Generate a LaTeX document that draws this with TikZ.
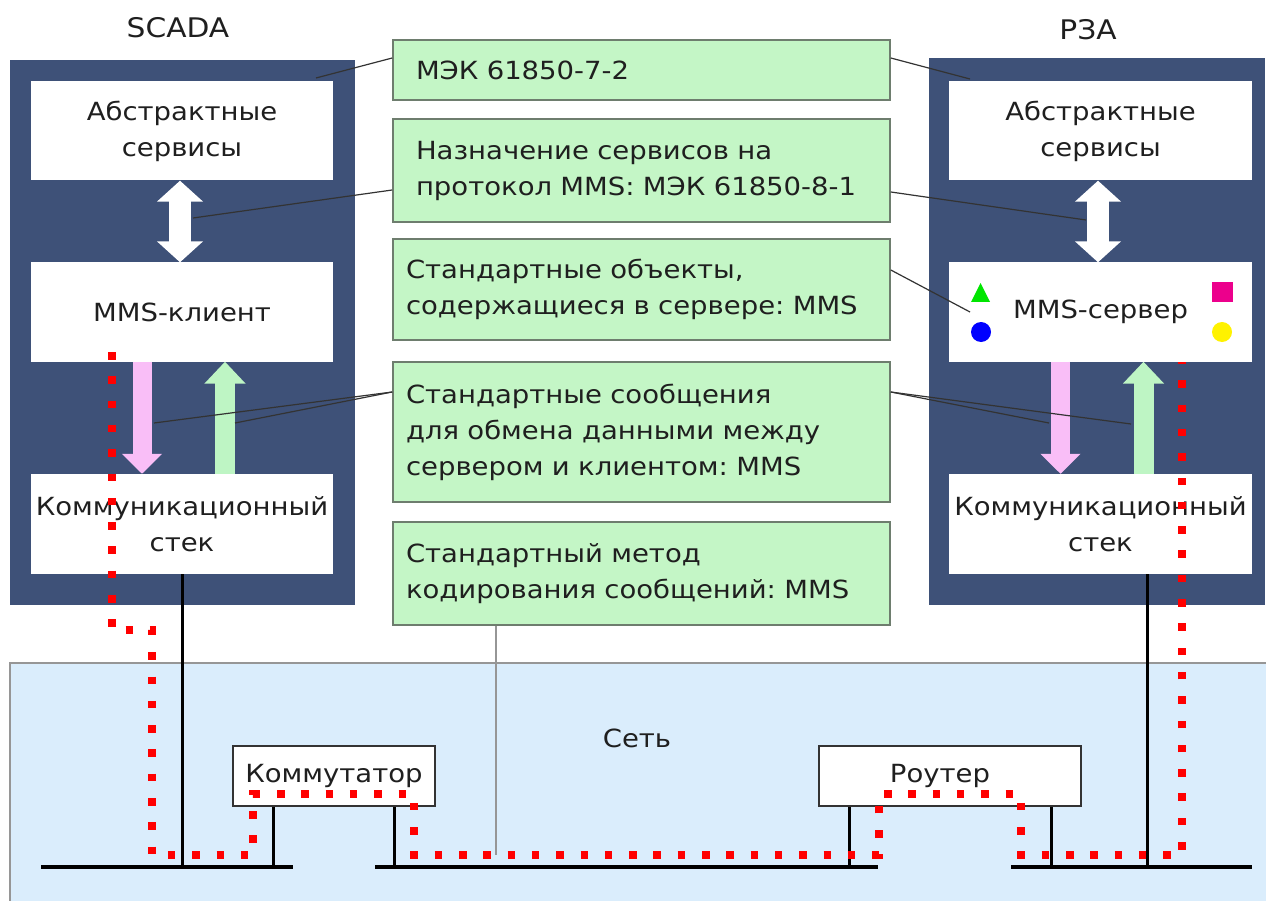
\documentclass[tikz,border=0pt]{standalone}
\usepackage{fontspec}
\setmainfont[FakeStretch=1.1]{DejaVu Sans}
\usetikzlibrary{arrows.meta}
\frenchspacing

\definecolor{panelblue}{RGB}{62,81,120}
\definecolor{notegreen}{RGB}{196,246,198}
\definecolor{noteedge}{RGB}{110,125,110}
\definecolor{netblue}{RGB}{218,237,252}
\definecolor{reqpink}{RGB}{249,190,247}
\definecolor{respgreen}{RGB}{190,245,196}
\definecolor{leadgray}{RGB}{150,150,150}

\tikzset{
  every node/.style={font=\fontsize{25}{36}\selectfont, text=black!88},
  titletext/.style={font=\fontsize{27}{36}\selectfont},
  whitebox/.style={fill=white, draw=none, minimum width=302pt, minimum height=99pt, align=center, inner sep=0pt},
  notebox/.style={fill=notegreen, draw=noteedge, line width=1.6pt, minimum width=497pt, align=left, inner ysep=0pt},
  devbox/.style={fill=white, draw=black!80, line width=2pt, minimum height=60pt, inner sep=0pt},
  leader/.style={draw=black!80, line width=1.2pt},
  bus/.style={draw=black, line width=4pt},
  drop/.style={draw=black, line width=3pt},
  dualarrow/.style={draw=white, line width=22pt,
    {Triangle[width=45pt,length=21pt]}-{Triangle[width=45pt,length=21pt]}},
  reqarrow/.style={draw=reqpink, line width=19pt, -{Triangle[width=39pt,length=20pt]}},
  resparrow/.style={draw=respgreen, line width=20pt, -{Triangle[width=40pt,length=22pt]}},
  packetpath/.style={draw=red, line width=7.5pt, dash pattern=on 7.5pt off 16.8pt},
}

\begin{document}
\begin{tikzpicture}[x=1pt, y=-1pt]
\useasboundingbox (0,0) rectangle (1266,901);

% station frames
\fill[panelblue] (10,60) rectangle (355,605);
\fill[panelblue] (929,58) rectangle (1265,605);
% network area
\fill[netblue] (10,663) rectangle (1266,901);
\draw[leadgray, line width=1.5pt] (10,901) -- (10,663) -- (1266,663);

\node[titletext] (scada) at (178,28) {SCADA};
\node[titletext] (rza) at (1088,30) {РЗА};

% layer boxes, client side
\node[whitebox] (absL) at (182,131) {Абстрактные\\сервисы};
\node[whitebox] (clientL) at (182,312) {MMS-клиент};
\node[whitebox, minimum height=100pt] (stackL) at (182,524) {Коммуникационный\\стек};

% layer boxes, server side
\node[whitebox, minimum width=303pt] (absR) at (1100.5,131) {Абстрактные\\сервисы};
\node[whitebox, minimum width=303pt] (serverR) at (1100.5,312) {MMS-сервер};
\node[whitebox, minimum width=303pt, minimum height=100pt] (stackR) at (1100.5,524) {Коммуникационный\\стек};

% data objects held by the server
\fill[green!90!black] (980.5,283) -- (971,302) -- (990,302) -- cycle;
\fill[blue] (981,332) circle (10pt);
\fill[magenta] (1212,282) rectangle (1233,302);
\fill[yellow] (1222,332) circle (10pt);

% service mapping and message exchange
\draw[dualarrow] ([xshift=-2pt]absL.south) -- ([xshift=-2pt]clientL.north);
\draw[dualarrow] ([xshift=-2.5pt]absR.south) -- ([xshift=-2.5pt]serverR.north);
\draw[reqarrow] ([xshift=-40pt]clientL.south) -- ([xshift=-40pt]stackL.north);
\draw[resparrow] ([xshift=43pt]stackL.north) -- ([xshift=43pt]clientL.south);
\draw[reqarrow] ([xshift=-40pt]serverR.south) -- ([xshift=-40pt]stackR.north);
\draw[resparrow] ([xshift=43pt]stackR.north) -- ([xshift=43pt]serverR.south);

% standard parts
\node[notebox, minimum height=60pt, text width=451pt, inner xsep=22pt] (n1) at (641.5,70) {МЭК 61850-7-2};
\node[notebox, minimum height=103pt, text width=451pt, inner xsep=22pt] (n2) at (641.5,170.5) {Назначение сервисов на\\протокол MMS: МЭК 61850-8-1};
\node[notebox, minimum height=101pt, text width=471pt, inner xsep=12pt] (n3) at (641.5,289.5) {Стандартные объекты,\\содержащиеся в сервере: MMS};
\node[notebox, minimum height=140pt, text width=471pt, inner xsep=12pt] (n4) at (641.5,432) {Стандартные сообщения\\для обмена данными между\\сервером и клиентом: MMS};
\node[notebox, minimum height=103pt, text width=471pt, inner xsep=12pt] (n5) at (641.5,573.5) {Стандартный метод\\кодирования сообщений: MMS};

% leader ends
\coordinate (t1L) at (316,78);
\coordinate (t1R) at (970,79);
\coordinate (t2L) at (193,218);
\coordinate (t2R) at (1086,220);
\coordinate (t3R) at (970,312);
\coordinate (t4La) at (154,423);
\coordinate (t4Lb) at (235,423);
\coordinate (t4Ra) at (1049,423);
\coordinate (t4Rb) at (1131,424);
\coordinate (t5) at (496,855);

\draw[leader] ([yshift=12pt]n1.west) -- (t1L);
\draw[leader] ([yshift=12pt]n1.east) -- (t1R);
\draw[leader] ([yshift=-19.5pt]n2.west) -- (t2L);
\draw[leader] ([yshift=-21.5pt]n2.east) -- (t2R);
\draw[leader] ([yshift=19.5pt]n3.east) -- (t3R);
\draw[leader] ([yshift=40pt]n4.west) -- (t4La);
\draw[leader] ([yshift=40pt]n4.west) -- (t4Lb);
\draw[leader] ([yshift=40pt]n4.east) -- (t4Ra);
\draw[leader] ([yshift=40pt]n4.east) -- (t4Rb);
\draw[leadgray, line width=1.5pt] ([xshift=-145.5pt]n5.south) -- (t5);

% network
\node at (637,738) {Сеть};
\node[devbox, minimum width=202pt] (switch) at (334,776) {Коммутатор};
\node[devbox, minimum width=262pt] (router) at (950,776) {\hspace*{-20pt}Роутер};

\coordinate (busAw) at (41,867);  \coordinate (busAe) at (293,867);
\coordinate (busBw) at (375,867); \coordinate (busBe) at (878,867);
\coordinate (busCw) at (1011,867); \coordinate (busCe) at (1252,867);
\draw[bus] (busAw) -- (busAe);
\draw[bus] (busBw) -- (busBe);
\draw[bus] (busCw) -- (busCe);

\draw[drop] (stackL.south) -- (stackL.south |- busAw);
\draw[drop] ([xshift=47pt]stackR.south) -- ([xshift=47pt]stackR.south |- busCw);
\draw[drop] ([xshift=-61pt]switch.south) -- ([xshift=-61pt]switch.south |- busAw);
\draw[drop] ([xshift=60pt]switch.south) -- ([xshift=60pt]switch.south |- busBw);
\draw[drop] ([xshift=-101pt]router.south) -- ([xshift=-101pt]router.south |- busBw);
\draw[drop] ([xshift=101pt]router.south) -- ([xshift=101pt]router.south |- busCw);

% path of a message from client to server
\draw[packetpath] (112,352) -- (112,630) -- (152,630) -- (152,855) -- (253,855)
  -- (253,794) -- (414,794) -- (414,855) -- (879,855) -- (879,794)
  -- (1021,794) -- (1021,855) -- (1182,855) -- (1182,362);
\end{tikzpicture}
\end{document}
